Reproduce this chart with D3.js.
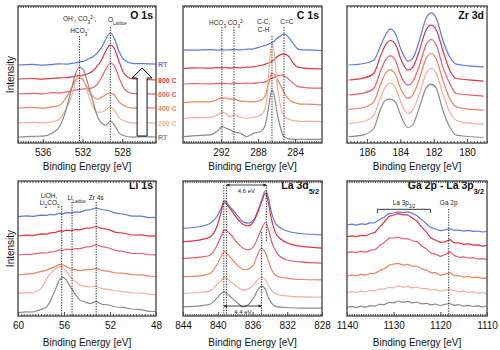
<!DOCTYPE html>
<html>
<head>
<meta charset="utf-8">
<script src="https://cdn.jsdelivr.net/npm/d3@7"></script>
<style>
body { margin: 0; background: #fff; }
svg { display: block; font-family: "Liberation Sans", Arial, sans-serif; }
</style>
</head>
<body>
<svg id="chart" width="500" height="350"></svg>
<script>
// Series (top to bottom in every panel)
const seriesNames = ["RT", "800 C", "600 C", "400 C", "200 C", "RT"];
const seriesColors = ["#5b78e6", "#e8323e", "#ef5b6e", "#f27f5e", "#f6ad9a", "#8a8a8a"];

// O 1s
const o1sEnergy = [538.5, 537, 536, 535, 534.3, 533.6, 533.1, 532.7, 532.3, 531.9, 531.5, 531, 530.5, 530, 529.6, 529.2, 528.8, 528.3, 527.8, 527, 526, 524.6];
const o1sCounts = [
    [78, 78.6, 77.8, 78.7, 79.2, 78.8, 79.7, 80.1, 81.2, 81.8, 83.6, 86.1, 90.2, 97, 105, 110, 104.5, 91, 83.2, 79.7, 79.3, 78.8],
    [64, 64.5, 63.8, 64.6, 65.2, 65.3, 66.2, 66.8, 67.7, 67.8, 69.2, 71.8, 77.2, 84.8, 93.2, 98, 94.6, 81, 69.2, 64.3, 63.7, 63],
    [49, 49.6, 49.2, 50.3, 49.8, 51.2, 51.8, 53.2, 53.4, 54.2, 54.3, 55.2, 58.8, 67.2, 74.8, 80, 77.2, 64.8, 54.2, 49.7, 49.3, 48.9],
    [35, 35.6, 34.8, 36.3, 37.8, 46.2, 54.8, 63.2, 65, 62.2, 54.8, 47.2, 43.8, 46.2, 48.8, 50, 48.2, 40.8, 37.2, 34.8, 35.3, 35],
    [20, 20.6, 20.2, 21.3, 23.8, 35.2, 46.8, 61.2, 67, 63.2, 50.8, 37.2, 30.8, 31.2, 33.8, 36, 33.2, 24.8, 22.2, 19.8, 20.3, 20],
    [6, 6.7, 6.8, 10.2, 16.8, 35.2, 54.8, 69.2, 76, 73.2, 60.8, 43.2, 26.8, 19.2, 17.8, 22, 18.2, 9.8, 7.2, 5.8, 6.3, 6]
];

// C 1s
const c1sEnergy = [296, 295, 293.2, 292.3, 291.9, 291.4, 291, 290.6, 289.9, 289.2, 288.5, 287.8, 287.3, 287, 286.8, 286.5, 286.2, 286, 285.7, 285.4, 285.2, 284.9, 284.6, 284.2, 283.8, 283.4, 282.7, 281.1];
const c1sCounts = [
    [93.2, 92.8, 93.3, 92.9, 93.4, 93, 93.2, 93.5, 93.1, 93.8, 94.2, 96, 97.4, 98.2, 99.1, 100.4, 102.2, 104.4, 106.2, 108.2, 108.8, 107.6, 104.4, 99.6, 94.8, 93.2, 93.1, 92.4],
    [74.7, 75.2, 74.8, 75.3, 75.1, 75.4, 74.8, 75.5, 75.1, 75.9, 76.1, 77.5, 78.5, 79.8, 80.2, 81.8, 83.6, 85.8, 87.6, 88.8, 88.9, 88.1, 85.6, 79.8, 76.2, 75.4, 74.6, 74.1],
    [59, 59.4, 59.1, 59.6, 59.5, 59.4, 59.1, 59.8, 59.5, 59.9, 59.6, 60.5, 60.9, 62.1, 62.9, 64.8, 65.9, 67.1, 67.6, 67.8, 66.9, 65.4, 62.9, 59.8, 56.9, 55.8, 55.2, 54.8],
    [40.3, 41.2, 41.1, 43.9, 45.2, 44.9, 43.8, 43.9, 41.8, 41.5, 41.1, 42.5, 46.2, 54.9, 61.2, 69.7, 68.1, 64.6, 59.8, 54.6, 50.4, 46.2, 43.1, 40.6, 39.8, 38.9, 38.8, 37.9],
    [24.7, 25.3, 25.6, 28.2, 30.8, 29.2, 26.1, 28.2, 25.5, 24.9, 25.5, 27.5, 32.8, 49.7, 76.3, 99.7, 86.3, 63, 43, 31.3, 27.2, 24.5, 23.9, 22.1, 22.2, 21.5, 21.8, 21.3],
    [6.3, 7.2, 8.1, 12.8, 16.3, 14.6, 13.1, 11.2, 9.8, 6.4, 9.6, 11.2, 16.1, 28, 39.7, 53, 44.7, 33, 19.7, 9.7, 6.3, 4.8, 4.2, 3.8, 3.6, 3.9, 3.6, 3.7]
];

// Zr 3d
const zr3dEnergy = [187.1, 186.2, 185.6, 185.2, 184.9, 184.6, 184.3, 183.95, 183.55, 183.25, 182.85, 182.45, 182.15, 181.85, 181.45, 181.05, 180.65, 179.9, 179.0];
const zr3dCounts = [
    [78, 79.5, 82.8, 96.5, 107.8, 113.9, 109.5, 93.2, 81.8, 84.9, 102.8, 124.9, 130.1, 124.9, 102.8, 86.5, 78.8, 77.2, 76.1],
    [63, 64.9, 69.5, 86.5, 97.8, 102.5, 98.8, 83.2, 72.8, 75.9, 92.8, 113.2, 117.8, 113.2, 92.8, 73.2, 64.5, 63.2, 61.8],
    [48, 49.9, 54.5, 71.5, 82.8, 87.2, 82.8, 66.5, 57.8, 61.5, 77.8, 98.2, 103.5, 98.2, 76.1, 59.9, 49.5, 48.2, 46.8],
    [33.7, 35.5, 41.1, 58.2, 69.5, 73.2, 68.8, 53.2, 44.5, 48.2, 64.5, 84.9, 89.5, 83.9, 62.8, 44.9, 36.1, 33.9, 32.8],
    [19.7, 21.5, 27.8, 44.9, 56.1, 59.9, 55.5, 39.9, 29.5, 33.2, 49.5, 69.9, 74.5, 69.9, 49.5, 31.5, 22.8, 19.9, 18.8],
    [6.3, 8.2, 14.5, 33.2, 42.8, 43.9, 41.1, 26.5, 15.5, 18.2, 36.1, 54.9, 58.8, 54.9, 32.8, 16.5, 7.8, 6.5, 5.5]
];

// Li 1s
const li1sEnergy = [60, 59.3, 58.7, 58, 57.5, 57.2, 56.8, 56.4, 56.1, 55.8, 55.4, 55, 54.6, 54.1, 53.7, 53.2, 52.7, 52.1, 51.5, 50.9, 50.1, 49.3, 48.6, 48];
const li1sCounts = [
    [99.3, 100.2, 99.6, 100.8, 100.6, 101.5, 101.2, 102.6, 102.1, 103.4, 103.1, 104.1, 103.9, 105.9, 106.4, 108, 106.5, 105.3, 102.9, 102, 99.9, 99.8, 98.4, 98.6],
    [80, 80.8, 80.3, 82.1, 81.9, 83.1, 83.3, 85.1, 84.6, 85.8, 85.3, 86.4, 86.2, 87.8, 88, 89.5, 87.6, 86.4, 83.6, 83, 81, 81.1, 79.9, 80.2],
    [61, 61.7, 61.8, 63.1, 63, 64.1, 64.4, 66, 65.7, 66.8, 66.4, 67.3, 67.4, 68.8, 69.4, 71.2, 69.4, 68, 65.6, 64.6, 62.7, 62.5, 61.4, 61.2],
    [41, 41.9, 42.4, 44.6, 45.7, 47.6, 49.1, 51.6, 51, 49.6, 47, 46.3, 45.4, 46.3, 46.4, 47.6, 45.7, 44.6, 43, 42.9, 41.4, 41.2, 39.8, 39.5],
    [22.7, 23.4, 23, 27, 37.4, 42.3, 46.4, 49.6, 48.4, 44.6, 38.4, 34.6, 30.7, 29.7, 29, 29.8, 27.4, 26.3, 25, 24.6, 23, 23, 21.7, 21.2],
    [3.3, 4.1, 4, 6.4, 9, 14.6, 25, 36.3, 39, 36.3, 28.4, 21.3, 15.7, 13.7, 12.4, 14.6, 11.7, 11, 9, 8.6, 7, 6.3, 4.7, 4.5]
];

// La 3d5/2
const la3dEnergy = [844, 842, 840.9, 840.1, 839.55, 839.25, 838.6, 837.8, 837.05, 836.5, 835.9, 835.35, 834.95, 834.5, 834.2, 833.8, 833.2, 832.1, 830.5, 828];
const la3dCounts = [
    [87.7, 89.5, 92.5, 99.5, 109.1, 115.5, 109.1, 101.2, 94.1, 92.9, 95.8, 106.2, 115.8, 125.5, 119.1, 102.9, 90.8, 85.2, 82.5, 81.2],
    [74.3, 76.2, 79.1, 89.5, 105.8, 113.5, 107.5, 97.9, 91.5, 90.2, 94.1, 104.5, 114.1, 122.9, 114.1, 96.2, 80.8, 73.5, 69.8, 67.9],
    [57.7, 58.9, 60.8, 70.2, 80.8, 86.2, 82.5, 73.5, 67.5, 66.2, 69.1, 79.5, 87.5, 93.5, 87.5, 74.5, 63.1, 56.2, 54.1, 52.9],
    [39.3, 40.2, 42.5, 51.2, 60.8, 64.5, 59.1, 51.2, 46.5, 46.9, 50.8, 62.9, 67.5, 62.9, 55.8, 46.2, 39.8, 37.9, 36.5, 36.2],
    [22.7, 23.5, 25.1, 31.2, 35.8, 38.9, 35.1, 29.5, 25.8, 26.9, 30.8, 36.9, 38.5, 36.2, 30.8, 25.5, 21.8, 20.2, 19.1, 18.9],
    [9.3, 10.2, 11.8, 17.9, 23.1, 24.5, 19.8, 13.5, 9.1, 11.2, 17.5, 26.9, 29.8, 26.2, 19.1, 12.9, 9.1, 8.5, 7.8, 7.9]
];

// Ga 2p - La 3p3/2
const ga2pEnergy = [1140, 1139, 1138, 1137, 1136, 1135, 1134, 1133, 1132, 1131, 1130, 1129, 1128, 1127, 1126, 1125, 1124, 1123, 1122, 1121, 1120, 1119, 1118, 1117, 1116, 1115, 1114, 1113, 1112, 1111, 1110];
const ga2pCounts = [
    [91, 91.8, 90.9, 92.1, 91.6, 93.1, 93.4, 96.5, 99, 102.4, 103, 104.1, 103.3, 104.2, 102.6, 100.3, 96.4, 92.3, 88.4, 87, 85.3, 86.1, 87.2, 85.7, 86, 84.9, 85.7, 84.7, 85, 84, 84.5],
    [79.3, 80.2, 79.4, 80.6, 80.3, 82.2, 83.6, 89.1, 94, 99.6, 101, 102.3, 101.2, 101.1, 97.9, 94.8, 88.9, 83.8, 77.9, 75.8, 73.6, 74.2, 76.4, 73.1, 73.2, 71.6, 72.3, 70.9, 71.2, 69.9, 70.4],
    [63.3, 64.1, 63.5, 64.6, 63.9, 65.6, 66.3, 70.4, 73.6, 77.8, 78, 78.8, 77.3, 77.2, 75.2, 74.5, 70.3, 67.1, 62.9, 61.8, 59.6, 61.2, 64.3, 60.4, 58.7, 59.2, 58, 58.4, 57, 57.4, 56.6],
    [40, 40.9, 40.2, 41.6, 40.9, 42.5, 42.6, 45.6, 47.3, 50.8, 52, 52.6, 50.9, 51.6, 49.8, 49.8, 47.2, 45.9, 43.2, 43.3, 40.8, 41.9, 43.4, 40.3, 40.5, 38.9, 39.5, 38.3, 38.8, 37.6, 38.1],
    [23.3, 24.3, 23.5, 24.9, 24.2, 25.7, 25.2, 27, 26.8, 28.7, 28.2, 30, 28.8, 29.6, 28.1, 29, 27.2, 27.6, 25.8, 26.7, 24.8, 25.9, 26.6, 25.5, 24.2, 24.9, 23.5, 24.3, 22.8, 23.5, 22.4],
    [8.7, 9.6, 8.4, 9.8, 8.7, 10.4, 9.8, 11.7, 11.4, 13.7, 13.1, 15, 13.7, 14.7, 13.1, 14, 12.1, 12.7, 11.1, 12, 10.5, 11.6, 12.5, 10.6, 11.3, 9.8, 10.6, 9.5, 10.3, 9.2, 10]
];

// Panel layout
const panels = [
    { left: 18, top: 6, width: 138, height: 137, domain: [538.5, 524.6], ticks: [536, 532, 528], minor: 0.25,
      energy: o1sEnergy, counts: o1sCounts, curve: d3.curveMonotoneX, yLabel: true, seriesLabels: true,
      title: [["O 1s"]], titleV: 124, axisTitleY: 27,
      vlines: [{ e: 532.3, top: 107 }, { e: 529.2, top: 116 }],
      labels: [
          { e: 532.3, v: 122, parts: [["OH"], ["-", "super"], [", CO"], ["3", "sub"], ["2-", "super"], [","]] },
          { e: 532.3, v: 110, parts: [["HCO"], ["3", "sub"], ["-", "super"]] },
          { e: 528.5, v: 121, parts: [["O"], ["Lattice", "sub"]] }
      ] },
    { left: 183, top: 6, width: 139, height: 137, domain: [296.1, 281.1], ticks: [292, 288, 284], minor: 0.25,
      energy: c1sEnergy, counts: c1sCounts, curve: d3.curveMonotoneX,
      title: [["C 1s"]], titleV: 124, axisTitleY: 27,
      vlines: [{ e: 291.9, top: 116 }, { e: 290.6, top: 116 }, { e: 286.5, top: 107 }, { e: 285.2, top: 116 }],
      labels: [
          { e: 292.3, v: 118.5, parts: [["HCO"], ["3", "sub"], ["-", "super"]] },
          { e: 290.4, v: 118.5, parts: [["CO"], ["3", "sub"], ["2-", "super"]] },
          { e: 287.4, v: 119.5, parts: [["C-C,"]] },
          { e: 287.4, v: 111, parts: [["C-H"]] },
          { e: 284.9, v: 119.5, parts: [["C=C"]] }
      ] },
    { left: 347, top: 6, width: 140, height: 137, domain: [187.2, 178.8], ticks: [186, 184, 182, 180], minor: 0.2,
      energy: zr3dEnergy, counts: zr3dCounts, curve: d3.curveMonotoneX,
      title: [["Zr 3d"]], titleV: 124, axisTitleY: 27, vlines: [], labels: [] },
    { left: 18, top: 181, width: 138, height: 135, domain: [60, 48], ticks: [60, 56, 52, 48], minor: 0.25,
      energy: li1sEnergy, counts: li1sCounts, curve: d3.curveLinear, yLabel: true,
      title: [["Li 1s"]], titleV: 127, axisTitleY: 30,
      vlines: [{ e: 56.2, top: 110 }, { e: 55.3, top: 114 }, { e: 53.2, top: 114 }],
      labels: [
          { e: 57.3, v: 118.5, parts: [["LiOH,"]] },
          { e: 57.25, v: 111, parts: [["Li"], ["2", "sub"], ["CO"], ["3", "sub"]] },
          { e: 54.9, v: 116, parts: [["Li"], ["Lattice", "sub"]] },
          { e: 53.2, v: 116, parts: [["Zr 4s"]] }
      ] },
    { left: 183, top: 181, width: 139, height: 135, domain: [844, 828], ticks: [844, 840, 836, 832, 828], minor: 0.25,
      energy: la3dEnergy, counts: la3dCounts, curve: d3.curveMonotoneX,
      title: [["La 3d"], ["5/2", "sub"]], titleV: 127, axisTitleY: 30,
      vlines: [{ e: 839.0, top: 131 }, { e: 839.3, top: 131 }, { e: 834.4, top: 131, bottom: 74 }, { e: 834.95, top: 84 }],
      arrows: [{ e1: 839.0, e2: 834.4, v: 131 }, { e1: 839.3, e2: 834.95, v: 10 }],
      labels: [
          { e: 836.7, v: 123.5, parts: [["4.6 eV"]], size: 6 },
          { e: 837.1, v: 2.5, parts: [["4.4 eV"]], size: 6 }
      ] },
    { left: 347, top: 181, width: 140, height: 135, domain: [1140, 1110], ticks: [1140, 1130, 1120, 1110], minor: 0.5,
      energy: ga2pEnergy, counts: ga2pCounts, curve: d3.curveLinear,
      title: [["Ga 2p - La 3p"], ["3/2", "sub"]], titleV: 127, axisTitleY: 30,
      vlines: [{ e: 1118.2, top: 107 }],
      bracket: { e1: 1133.5, e2: 1122.1, v: 106.7, drop: 3.7 },
      labels: [
          { e: 1127.8, v: 111, parts: [["La 3p"], ["3/2", "sub"]] },
          { e: 1118.2, v: 111, parts: [["Ga 2p"]] }
      ] }
];

const svg = d3.select("#chart");

// Text with sub/superscript pieces
function addText(g, x, y, parts, size, anchor, color, weight) {
    const t = g.append("text")
        .attr("x", x)
        .attr("y", y)
        .attr("text-anchor", anchor || "middle")
        .attr("fill", color || "#1a1a1a")
        .style("font-size", size + "px")
        .style("font-weight", weight || "normal");
    parts.forEach(p => {
        const s = t.append("tspan").text(p[0]);
        if (p[1]) s.attr("baseline-shift", p[1]).style("font-size", "70%");
    });
    return t;
}

panels.forEach(p => {
    const g = svg.append("g").attr("transform", `translate(${p.left},${p.top})`);

    const x = d3.scaleLinear().domain(p.domain).range([0, p.width]);
    const y = d3.scaleLinear().domain([0, p.height]).range([p.height, 0]);

    // Spectra
    const line = d3.line()
        .x(d => x(d[0]))
        .y(d => y(d[1]))
        .curve(p.curve);

    p.counts.forEach((vals, i) => {
        g.append("path")
            .datum(p.energy.map((e, j) => [e, vals[j]]))
            .attr("fill", "none")
            .attr("stroke", seriesColors[i])
            .attr("stroke-width", 1.2)
            .attr("stroke-linejoin", "round")
            .attr("d", line);
    });

    // Dotted guide lines
    p.vlines.forEach(l => {
        g.append("line")
            .attr("x1", x(l.e)).attr("x2", x(l.e))
            .attr("y1", y(l.top)).attr("y2", y(l.bottom || 0))
            .attr("stroke", "#111")
            .attr("stroke-width", 0.9)
            .attr("stroke-dasharray", "1.3,1.3");
    });

    // Double arrows (La 3d)
    (p.arrows || []).forEach(a => {
        const xa = x(a.e1), xb = x(a.e2), ya = y(a.v);
        g.append("line")
            .attr("x1", xa).attr("x2", xb).attr("y1", ya).attr("y2", ya)
            .attr("stroke", "#111").attr("stroke-width", 0.8);
        g.append("path")
            .attr("d", `M${xa},${ya}l3,-1.6v3.2z M${xb},${ya}l-3,-1.6v3.2z`)
            .attr("fill", "#111");
    });

    // Bracket (Ga 2p)
    if (p.bracket) {
        const b = p.bracket;
        g.append("path")
            .attr("d", `M${x(b.e1)},${y(b.v - b.drop)}V${y(b.v)}H${x(b.e2)}V${y(b.v - b.drop)}`)
            .attr("fill", "none")
            .attr("stroke", "#222")
            .attr("stroke-width", 0.9);
    }

    // Labels
    p.labels.forEach(l => {
        addText(g, x(l.e), y(l.v), l.parts, l.size || 6.5);
    });

    // Title
    addText(g, p.width - 3, y(p.titleV), p.title, 10.5, "end", "#111", "bold");

    // Frame
    g.append("rect")
        .attr("width", p.width)
        .attr("height", p.height)
        .attr("fill", "none")
        .attr("stroke", "#4d4d4d")
        .attr("stroke-width", 1.4);

    // Minor ticks (top and bottom, inward)
    const lo = Math.min(...p.domain), hi = Math.max(...p.domain);
    const minors = d3.range(Math.ceil(lo / p.minor) * p.minor, hi + 1e-9, p.minor);
    g.append("g")
        .attr("transform", `translate(0,${p.height})`)
        .call(d3.axisBottom(x).tickValues(minors).tickSize(-2).tickFormat(""))
        .call(a => a.select(".domain").remove())
        .attr("color", "#4d4d4d");
    g.append("g")
        .call(d3.axisTop(x).tickValues(minors).tickSize(-2).tickFormat(""))
        .call(a => a.select(".domain").remove())
        .attr("color", "#4d4d4d");

    // Major ticks with labels
    g.append("g")
        .attr("transform", `translate(0,${p.height})`)
        .call(d3.axisBottom(x).tickValues(p.ticks).tickSize(-4).tickPadding(6).tickFormat(d3.format("d")))
        .call(a => a.select(".domain").remove())
        .attr("font-family", null)
        .attr("font-size", null)
        .attr("color", "#4d4d4d")
        .call(a => a.selectAll("text").attr("fill", "#111").style("font-size", "10px"));

    // Axis title
    g.append("text")
        .attr("x", p.width / 2)
        .attr("y", p.height + p.axisTitleY)
        .attr("text-anchor", "middle")
        .attr("fill", "#111")
        .style("font-size", "10px")
        .text("Binding Energy [eV]");

    if (p.yLabel) {
        g.append("text")
            .attr("transform", "rotate(-90)")
            .attr("x", -p.height / 2)
            .attr("y", -4)
            .attr("text-anchor", "middle")
            .attr("fill", "#111")
            .style("font-size", "10px")
            .text("Intensity");
    }

    // Series labels and arrow (O 1s only)
    if (p.seriesLabels) {
        p.counts.forEach((vals, i) => {
            g.append("text")
                .attr("x", p.width + 2)
                .attr("y", y(vals[vals.length - 1]) + 2.5)
                .attr("fill", seriesColors[i])
                .style("font-size", "7px")
                .style("font-weight", "bold")
                .text(seriesNames[i]);
        });

        const cx = x(526.0), hw = x(526.0) - x(526.5), hh = x(526.0) - x(527.0);
        const yTop = y(75), yHead = y(65), yBot = y(7);
        g.append("path")
            .attr("d", `M${cx},${yTop}L${cx + hh},${yHead}H${cx + hw}V${yBot}H${cx - hw}V${yHead}H${cx - hh}Z`)
            .attr("fill", "#fff")
            .attr("stroke", "#111")
            .attr("stroke-width", 1);
    }
});
</script>
</body>
</html>
